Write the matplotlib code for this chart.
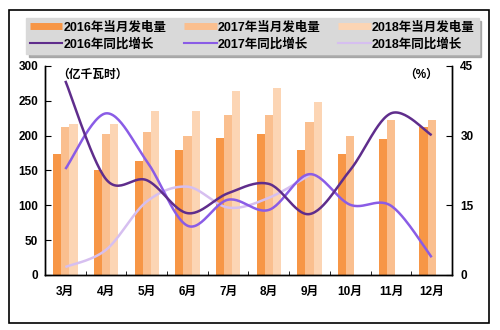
import numpy as np
import matplotlib.pyplot as plt
from matplotlib.lines import Line2D
from matplotlib.patches import Rectangle

plt.rcParams['font.family'] = ['Liberation Sans', 'Noto Sans CJK SC']
plt.rcParams['font.weight'] = 'bold'

# Monthly generation (100 million kWh) and year-on-year growth (%)
months = ['3月', '4月', '5月', '6月', '7月', '8月', '9月', '10月', '11月', '12月']
gen_2016 = [173, 150, 164, 179, 197, 202, 180, 174, 195, 213]
gen_2017 = [213, 203, 205, 199, 230, 229, 219, 200, 222, 222]
gen_2018 = [217, 216, 236, 236, 264, 269, 248]
yoy_2016 = [41.8, 20.6, 20.4, 13.3, 17.6, 19.6, 13.1, 22.6, 34.8, 30.1]
yoy_2017 = [22.8, 34.8, 24.5, 10.6, 16.2, 14.0, 21.7, 15.1, 14.9, 3.8]
yoy_2018 = [1.7, 5.4, 15.8, 19.0, 14.5, 16.6, 21.5]

c_bar = ['#f79646', '#fabf8f', '#fcd5b4']
c_line = ['#5f2d8c', '#8a5ce6', '#d6bff0']


def smooth(xs, ys, n=30):
    # Catmull-Rom style smoothing through every point
    xs = np.asarray(xs, float)
    ys = np.asarray(ys, float)
    px = np.concatenate([[xs[0]], xs, [xs[-1]]])
    py = np.concatenate([[ys[0]], ys, [ys[-1]]])
    out_x, out_y = [], []
    t = np.linspace(0, 1, n)
    for i in range(1, len(px) - 2):
        p1 = np.array([px[i], py[i]])
        p2 = np.array([px[i + 1], py[i + 1]])
        c1 = p1 + (p2 - np.array([px[i - 1], py[i - 1]])) / 6
        c2 = p2 - (np.array([px[i + 2], py[i + 2]]) - p1) / 6
        b = ((1 - t) ** 3)[:, None] * p1 + (3 * (1 - t) ** 2 * t)[:, None] * c1 \
            + (3 * (1 - t) * t ** 2)[:, None] * c2 + (t ** 3)[:, None] * p2
        out_x.extend(b[:, 0])
        out_y.extend(b[:, 1])
    return out_x, out_y


fig = plt.figure(figsize=(5.0, 3.3), dpi=100)
fig.add_artist(Rectangle((0.018, 0.021), 0.96, 0.948, transform=fig.transFigure,
                         fill=False, edgecolor='black', linewidth=1.2))
ax = fig.add_axes([0.09, 0.167, 0.814, 0.633])
ax2 = ax.twinx()

x = np.arange(len(months))
w = 0.2
for k, vals in enumerate([gen_2016, gen_2017, gen_2018]):
    ax.bar(x[:len(vals)] + (k - 1) * w, vals, width=w, color=c_bar[k], zorder=2)

for k, vals in reversed(list(enumerate([yoy_2016, yoy_2017, yoy_2018]))):
    sx, sy = smooth(x[:len(vals)], vals)
    ax2.plot(sx, sy, color=c_line[k], lw=1.8, zorder=3 - k * 0.1,
             solid_capstyle='butt')

ax.set_xlim(-0.5, len(months) - 0.5)
ax.set_ylim(0, 300)
ax.set_yticks(range(0, 301, 50))
ax2.set_ylim(0, 45)
ax2.set_yticks([0, 15, 30, 45])
ax.set_xticks(x)
ax.set_xticklabels(months)
ax.set_xticks(np.arange(0.5, len(months) - 0.5, 1), minor=True)

for a in (ax, ax2):
    a.spines['top'].set_visible(False)
    for s in a.spines.values():
        s.set_color('black')
        s.set_linewidth(1.0)
ax.tick_params(axis='x', which='major', length=0, pad=8, labelsize=8.5)
ax.tick_params(axis='x', which='minor', direction='in', length=3)
ax.tick_params(axis='y', direction='in', length=4, labelsize=8.5, pad=5)
ax2.tick_params(axis='y', direction='in', length=4, labelsize=8.5, pad=6)

ax.text(0.03, 0.985, '（亿千瓦时）', transform=ax.transAxes, ha='left', va='top',
        fontsize=8.5, fontweight='bold')
ax2.text(0.965, 0.985, '（%）', transform=ax.transAxes, ha='right', va='top',
         fontsize=8.5, fontweight='bold')

labels = ['2016年当月发电量', '2016年同比增长', '2017年当月发电量',
          '2017年同比增长', '2018年当月发电量', '2018年同比增长']
handles = []
for k in range(3):
    handles.append(Line2D([], [], color=c_bar[k], lw=5, solid_capstyle='butt'))
    handles.append(Line2D([], [], color=c_line[k], lw=1.5))
leg = fig.legend(handles, labels, ncol=3, loc='lower left',
                 bbox_to_anchor=(0.052, 0.835, 0.905, 0.113), mode='expand',
                 frameon=True, fancybox=False, shadow={'color': '#9a9a9a', 'alpha': 0.8},
                 facecolor='#d9d9d9', edgecolor='#d9d9d9', framealpha=1,
                 fontsize=9, handlelength=2.6, handletextpad=0.1,
                 labelspacing=0.35, borderpad=0.3, borderaxespad=0)
for t in leg.get_texts():
    t.set_fontweight('bold')

fig.savefig('out.png', dpi=100)
